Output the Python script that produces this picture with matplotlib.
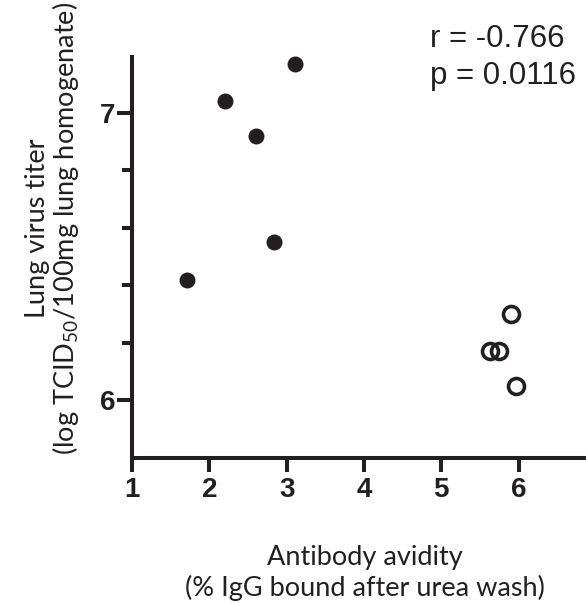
import numpy as np
import matplotlib as mpl
mpl.use("Agg")
import matplotlib.pyplot as plt
from matplotlib.ticker import FixedLocator

# subscript in the same face as the label
mpl.rcParams["mathtext.fontset"] = "custom"
mpl.rcParams["mathtext.rm"] = "Lato"
mpl.rcParams["mathtext.it"] = "Lato:italic"
mpl.rcParams["mathtext.bf"] = "Lato:bold"

# Data
filled_x = [1.71, 2.20, 2.60, 2.84, 3.11]
filled_y = [6.42, 7.04, 6.92, 6.55, 7.17]
open_x = [5.63, 5.75, 5.90, 5.97]
open_y = [6.17, 6.17, 6.30, 6.05]

x_ticks = [1, 2, 3, 4, 5, 6]
y_ticks = [6, 7]
y_minor = [6.2, 6.4, 6.6, 6.8]

stats_lines = ["r = -0.766", "p = 0.0116"]
x_label = "Antibody avidity\n(% IgG bound after urea wash)"
y_label = "Lung virus titer\n(log TCID$_{\\mathrm{50}}$/100mg lung homogenate)"

ink = "#231f20"
W, H = 586, 603

fig = plt.figure(figsize=(W / 100, H / 100), dpi=100)
ax = fig.add_axes([132 / W, (H - 458) / H, (W - 132) / W, (458 - 55) / H])

ax.plot(filled_x, filled_y, "o", color=ink, markersize=11.5, markeredgewidth=0, clip_on=False)
ax.plot(open_x, open_y, "o", markerfacecolor="none", markeredgecolor=ink,
        markersize=11.5, markeredgewidth=2.6, clip_on=False)

ax.set_xlim(1, 6.87)
ax.set_ylim(5.8, 7.2)

for s in ["top", "right"]:
  ax.spines[s].set_visible(False)
for s in ["left", "bottom"]:
  ax.spines[s].set_linewidth(2.9)
  ax.spines[s].set_color(ink)
  ax.spines[s].set_capstyle("butt")

ax.set_xticks(x_ticks)
ax.set_yticks(y_ticks)
ax.yaxis.set_minor_locator(FixedLocator(y_minor))
ax.xaxis.set_minor_locator(FixedLocator([]))
ax.tick_params(axis="x", which="major", length=10, width=2.9, color=ink, pad=4)
ax.tick_params(axis="y", which="major", length=11, width=2.9, color=ink, pad=1)
ax.tick_params(axis="y", which="minor", length=7, width=2.9, color=ink)

tick_font = dict(family="Liberation Sans", weight="bold", size=20)
ax.set_xticklabels([str(t) for t in x_ticks], fontdict=tick_font, color=ink)
ax.set_yticklabels([str(t) for t in y_ticks], fontdict=tick_font, color=ink)

label_font = dict(family="Lato", size=19.5, color=ink)
fig.text(365 / W, 1 - 573 / H, x_label, ha="center", va="center",
         linespacing=1.25, **label_font)
fig.text(53 / W, 1 - 228 / H, y_label, ha="center", va="center", rotation=90,
         linespacing=1.0, **label_font)

fig.text(430 / W, 1 - 47 / H, stats_lines[0], ha="left", va="baseline",
         family="Liberation Sans", size=22.5, color=ink)
fig.text(430 / W, 1 - 84 / H, stats_lines[1], ha="left", va="baseline",
         family="Liberation Sans", size=22.5, color=ink)

fig.savefig("out.png", dpi=100)
